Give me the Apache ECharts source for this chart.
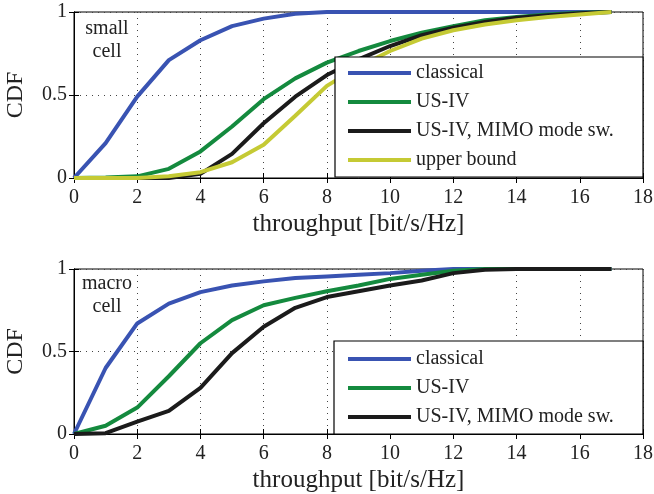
<!DOCTYPE html>
<html>
<head>
<meta charset="utf-8">
<script src="https://cdn.jsdelivr.net/npm/echarts@6/dist/echarts.min.js"></script>
<style>
  html, body { margin: 0; padding: 0; background: #fff; }
  #chart-container { width: 654px; height: 494px; }
</style>
</head>
<body>
<div id="chart-container"></div>
<script>
// throughput values (bit/s/Hz)
var throughput = [0, 1, 2, 3, 4, 5, 6, 7, 8, 9, 10, 11, 12, 13, 14, 15, 16, 17];
var xTicks = [0, 2, 4, 6, 8, 10, 12, 14, 16, 18];

// small cell CDFs
var classicalSmall = [0, 0.21, 0.49, 0.71, 0.83, 0.915, 0.96, 0.99, 1, 1, 1, 1, 1, 1, 1, 1, 1, 1];
var usivSmall = [0, 0.003, 0.01, 0.055, 0.16, 0.31, 0.475, 0.6, 0.695, 0.765, 0.825, 0.875, 0.915, 0.95, 0.97, 0.985, 0.995, 1];
var mimoSmall = [0, 0, 0, 0, 0.025, 0.145, 0.33, 0.49, 0.62, 0.715, 0.795, 0.86, 0.905, 0.94, 0.965, 0.98, 0.993, 1];
var upperSmall = [0, 0, 0, 0.01, 0.035, 0.095, 0.2, 0.375, 0.555, 0.67, 0.765, 0.84, 0.89, 0.925, 0.95, 0.97, 0.985, 1];

// macro cell CDFs
var classicalMacro = [0, 0.4, 0.67, 0.79, 0.86, 0.9, 0.925, 0.945, 0.955, 0.965, 0.975, 0.99, 1, 1, 1, 1, 1, 1];
var usivMacro = [0, 0.05, 0.16, 0.35, 0.55, 0.69, 0.78, 0.825, 0.865, 0.9, 0.94, 0.965, 0.99, 1, 1, 1, 1, 1];
var mimoMacro = [0, 0.005, 0.075, 0.14, 0.28, 0.49, 0.65, 0.765, 0.83, 0.865, 0.9, 0.93, 0.975, 0.995, 1, 1, 1, 1];

var names = ["classical", "US-IV", "US-IV, MIMO mode sw.", "upper bound"];
var colors = ["#3953b2", "#148a3e", "#1b1b1b", "#c5ca34"];

var font = "Liberation Serif";

function pairs(ys) {
  return throughput.map(function (x, i) { return [x, ys[i]]; });
}

function line(name, ys, color, idx) {
  return {
    name: name,
    type: "line",
    xAxisIndex: idx,
    yAxisIndex: idx,
    data: pairs(ys),
    symbol: "none",
    color: color,
    lineStyle: { width: 4, color: color },
    z: 2,
    silent: true
  };
}

function xAxisBottom(idx) {
  return {
    type: "value",
    gridIndex: idx,
    min: 0,
    max: 18,
    interval: 2,
    name: "throughput [bit/s/Hz]",
    nameLocation: "middle",
    nameGap: 34,
    nameTextStyle: { fontFamily: font, fontSize: 25, color: "#222" },
    axisLine: { show: true, lineStyle: { color: "#000", width: 1 } },
    axisTick: { show: true, inside: true, length: 5, lineStyle: { color: "#000" } },
    axisLabel: {
      fontFamily: font, fontSize: 20, color: "#222", margin: 10,
      formatter: function (v) { return xTicks.indexOf(v) >= 0 ? String(v) : ""; }
    },
    splitLine: { show: true, lineStyle: { color: "#444", type: [1, 5], width: 1 } }
  };
}

function xAxisTop(idx) {
  return {
    type: "value", gridIndex: idx, position: "top", min: 0, max: 18, interval: 2,
    axisLine: { show: true, lineStyle: { color: "#000", width: 1 } },
    axisTick: { show: true, inside: true, length: 5, lineStyle: { color: "#000" } },
    axisLabel: { show: false },
    splitLine: { show: false }
  };
}

function yAxisLeft(idx) {
  return {
    type: "value",
    gridIndex: idx,
    min: 0,
    max: 1,
    interval: 0.5,
    name: "CDF",
    nameLocation: "middle",
    nameGap: 46,
    nameTextStyle: { fontFamily: font, fontSize: 24, color: "#222" },
    axisLine: { show: true, lineStyle: { color: "#000", width: 1 } },
    axisTick: { show: true, inside: true, length: 5, lineStyle: { color: "#000" } },
    axisLabel: { fontFamily: font, fontSize: 20, color: "#222", margin: 7 },
    splitLine: { show: true, lineStyle: { color: "#444", type: [1, 5], width: 1 } }
  };
}

function yAxisRight(idx) {
  return {
    type: "value", gridIndex: idx, position: "right", min: 0, max: 1, interval: 0.5,
    axisLine: { show: true, lineStyle: { color: "#000", width: 1 } },
    axisTick: { show: true, inside: true, length: 5, lineStyle: { color: "#000" } },
    axisLabel: { show: false },
    splitLine: { show: false }
  };
}

function legend(data, top) {
  return {
    data: data,
    orient: "vertical",
    left: 348,
    top: top,
    padding: 0,
    icon: "rect",
    itemWidth: 63,
    itemHeight: 4,
    itemGap: 9,
    z: 20,
    selectedMode: false,
    textStyle: { fontFamily: font, fontSize: 20, color: "#222", lineHeight: 20 }
  };
}

var dom = document.getElementById("chart-container");
var myChart = echarts.init(dom, null, { renderer: "canvas" });

var option = {
  backgroundColor: "#fff",
  animation: false,
  grid: [
    { left: 74, top: 12, width: 569, height: 166, outerBoundsMode: "none", containLabel: false,
      show: true, borderColor: "#000", borderWidth: 1, backgroundColor: "transparent" },
    { left: 74, top: 269, width: 569, height: 165, outerBoundsMode: "none", containLabel: false,
      show: true, borderColor: "#000", borderWidth: 1, backgroundColor: "transparent" }
  ],
  xAxis: [xAxisBottom(0), xAxisBottom(1), xAxisTop(0), xAxisTop(1)],
  yAxis: [yAxisLeft(0), yAxisLeft(1), yAxisRight(0), yAxisRight(1)],
  legend: [
    legend(names, 63),
    legend(names.slice(0, 3), 349)
  ],
  graphic: [
    { type: "rect", z: 10, shape: { x: 335, y: 57, width: 308, height: 120 },
      style: { fill: "#fff", stroke: "#000", lineWidth: 1.2 } },
    { type: "rect", z: 10, shape: { x: 334, y: 341, width: 309, height: 93 },
      style: { fill: "#fff", stroke: "#000", lineWidth: 1.2 } },
    { type: "text", z: 10, x: 107, y: 17,
      style: { text: "small\ncell", fontFamily: font, fontSize: 20, lineHeight: 23, fill: "#222", align: "center", verticalAlign: "top" } },
    { type: "text", z: 10, x: 107, y: 272,
      style: { text: "macro\ncell", fontFamily: font, fontSize: 20, lineHeight: 23, fill: "#222", align: "center", verticalAlign: "top" } }
  ],
  series: [
    line(names[0], classicalSmall, colors[0], 0),
    line(names[1], usivSmall, colors[1], 0),
    line(names[2], mimoSmall, colors[2], 0),
    line(names[3], upperSmall, colors[3], 0),
    line(names[0], classicalMacro, colors[0], 1),
    line(names[1], usivMacro, colors[1], 1),
    line(names[2], mimoMacro, colors[2], 1)
  ]
};

if (option && typeof option === "object") {
  myChart.setOption(option, true);
}
</script>
</body>
</html>
